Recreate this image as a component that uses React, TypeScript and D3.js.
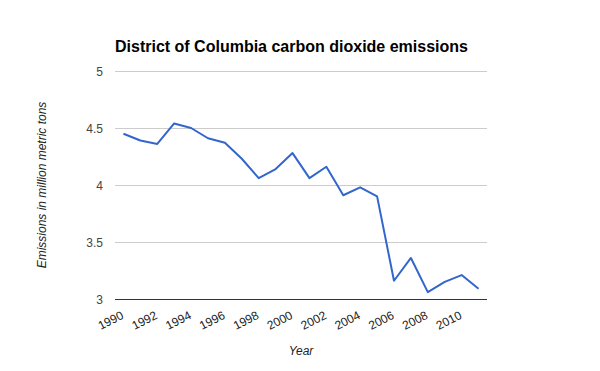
import * as d3 from 'd3';
import React, { useRef, useEffect } from 'react';

const years = [1990, 1991, 1992, 1993, 1994, 1995, 1996, 1997, 1998, 1999, 2000,
  2001, 2002, 2003, 2004, 2005, 2006, 2007, 2008, 2009, 2010, 2011]
const emissions = [4.45, 4.39, 4.36, 4.54, 4.50, 4.41, 4.37, 4.23, 4.06, 4.14, 4.28,
  4.06, 4.16, 3.91, 3.98, 3.90, 3.16, 3.36, 3.06, 3.15, 3.21, 3.09]
const yTicks = [3, 3.5, 4, 4.5, 5]

const width = 600
const height = 371
const margin = { top: 71, right: 113, bottom: 72, left: 115 }
const font = "Arial, 'Liberation Sans', sans-serif"

function LineChart() {
  const ref = useRef(null);

  useEffect(() => {
    const svg = d3.select(ref.current)
    svg.selectAll('*').remove()

    const w = width - margin.left - margin.right
    const h = height - margin.top - margin.bottom

    svg.append('rect').attr('width', width).attr('height', height).attr('fill', '#fff')

    const g = svg.append('g')
      .attr('transform', `translate(${margin.left},${margin.top})`)

    const x = d3.scaleBand()
      .domain(years.map(String))
      .range([0, w])
    const cx = (yr) => x(String(yr)) + x.bandwidth() / 2

    const y = d3.scaleLinear()
      .domain([3, 5])
      .range([h, 0])

    // gridlines
    g.append('g')
      .selectAll('line')
      .data(yTicks.filter(t => t !== 3))
      .enter()
      .append('line')
      .attr('x1', 0)
      .attr('x2', w)
      .attr('y1', d => Math.round(y(d)) + 0.5)
      .attr('y2', d => Math.round(y(d)) + 0.5)
      .attr('stroke', '#cccccc')
      .attr('stroke-width', 1)

    // baseline
    g.append('line')
      .attr('x1', 0)
      .attr('x2', w)
      .attr('y1', Math.round(y(3)) + 0.5)
      .attr('y2', Math.round(y(3)) + 0.5)
      .attr('stroke', '#333333')
      .attr('stroke-width', 1.2)

    // y labels
    g.append('g')
      .selectAll('text')
      .data(yTicks)
      .enter()
      .append('text')
      .attr('x', -12)
      .attr('y', d => y(d) + 4.5)
      .attr('text-anchor', 'end')
      .attr('font-family', font)
      .attr('font-size', 12)
      .attr('fill', '#444444')
      .text(d => String(d))

    // x labels
    g.append('g')
      .selectAll('text')
      .data(years.filter((d, i) => i % 2 === 0))
      .enter()
      .append('text')
      .attr('transform', d => `translate(${cx(d) + 1},${h + 19}) rotate(-27)`)
      .attr('text-anchor', 'end')
      .attr('font-family', font)
      .attr('font-size', 12)
      .attr('fill', '#222222')
      .text(d => String(d))

    // the line
    const line = d3.line()
      .x((d, i) => cx(years[i]))
      .y(d => y(d))

    g.append('path')
      .datum(emissions)
      .attr('d', line)
      .attr('fill', 'none')
      .attr('stroke', '#3366cc')
      .attr('stroke-width', 2)
      .attr('stroke-linejoin', 'round')

    // titles
    svg.append('text')
      .attr('x', margin.left)
      .attr('y', 52)
      .attr('font-family', font)
      .attr('font-size', 16)
      .attr('font-weight', 'bold')
      .attr('fill', '#000')
      .text('District of Columbia carbon dioxide emissions')

    svg.append('text')
      .attr('transform', `translate(46,${margin.top + h / 2}) rotate(-90)`)
      .attr('text-anchor', 'middle')
      .attr('font-family', font)
      .attr('font-size', 12)
      .attr('font-style', 'italic')
      .attr('fill', '#222222')
      .text('Emissions in million metric tons')

    svg.append('text')
      .attr('x', margin.left + w / 2)
      .attr('y', 355)
      .attr('text-anchor', 'middle')
      .attr('font-family', font)
      .attr('font-size', 12)
      .attr('font-style', 'italic')
      .attr('fill', '#222222')
      .text('Year')
  })

  return (
    <svg ref={ref} width={width} height={height}
      style={{ position: 'absolute', left: 0, top: 0 }}>
    </svg>
  )
}

export default function App() {
  return <LineChart />
}
